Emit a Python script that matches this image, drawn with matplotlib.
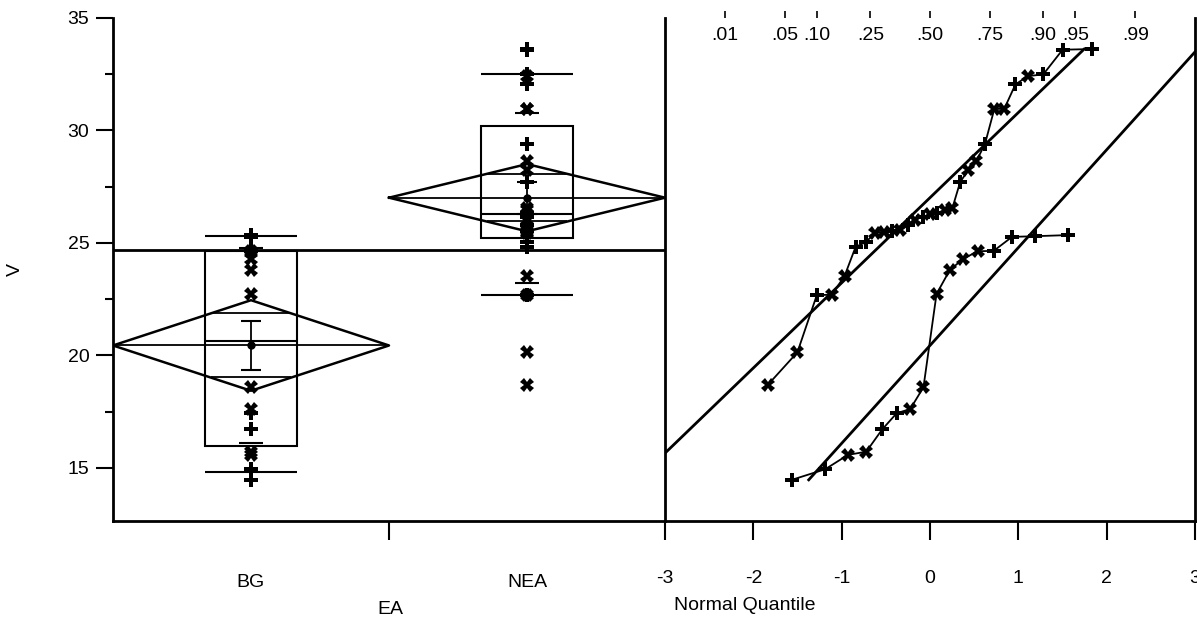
import numpy as np
import matplotlib.pyplot as plt
from matplotlib.patches import Rectangle
from statistics import NormalDist

plt.rcParams['font.family'] = ['Liberation Sans', 'DejaVu Sans']
plt.rcParams['axes.unicode_minus'] = False

# data (sorted), marker shape per point
groups = ['BG', 'NEA']
bg_values = [14.47, 14.94, 15.58, 15.72, 16.71, 17.43, 17.62, 18.59, 22.73, 23.79,
             24.30, 24.63, 24.65, 25.27, 25.30, 25.35]
bg_marks = ['P', 'P', 'X', 'X', 'P', 'P', 'X', 'X', 'X', 'X',
            'X', 'X', 'P', 'P', 'P', 'P']
nea_values = [18.70, 20.14, 22.68, 22.70, 23.53, 24.83, 25.03, 25.45, 25.50, 25.53,
              25.57, 25.81, 26.04, 26.16, 26.27, 26.35, 26.45, 26.55, 27.70, 28.23,
              28.63, 29.41, 30.95, 30.97, 32.05, 32.42, 32.49, 33.59, 33.62]
nea_marks = ['X', 'X', 'P', 'X', 'X', 'P', 'P', 'X', 'X', 'P',
             'X', 'P', 'X', 'P', 'X', 'P', 'X', 'X', 'P', 'X',
             'X', 'P', 'X', 'X', 'P', 'X', 'P', 'P', 'P']
prob_labels = ['.01', '.05', '.10', '.25', '.50', '.75', '.90', '.95', '.99']
probs = [0.01, 0.05, 0.10, 0.25, 0.50, 0.75, 0.90, 0.95, 0.99]

data = [np.array(bg_values), np.array(nea_values)]
marks = [bg_marks, nea_marks]
nd = NormalDist()
fs = 14

W, H = 1197, 627
fig = plt.figure(figsize=(W / 100, H / 100), dpi=100)
axL = fig.add_axes([113 / W, 106 / H, 552 / W, 503 / H])
axR = fig.add_axes([665 / W, 106 / H, 530 / W, 503 / H], sharey=axL)

lw = 1.8
# pooled sd for the means diamonds
allv = np.concatenate(data)
grand = allv.mean()
ss = sum(((v - v.mean()) ** 2).sum() for v in data)
dfe = len(allv) - len(data)
sp = np.sqrt(ss / dfe)
tval = 2.017

axL.axhline(grand, color='k', lw=2)
for i, v in enumerate(data):
    n = len(v)
    m = v.mean()
    sd = v.std(ddof=1)
    q10, q25, q50, q75, q90 = np.percentile(v, [10, 25, 50, 75, 90], method='weibull')
    bw = 0.167
    axL.add_patch(Rectangle((i - bw, q25), 2 * bw, q75 - q25, fill=False, ec='k', lw=1.5))
    axL.hlines([q50, q10, q90], i - bw, i + bw, color='k', lw=1.5)
    axL.hlines([m - sd, m + sd], i - 0.045, i + 0.045, color='k', lw=1.5)
    ci = tval * sp / np.sqrt(n)
    axL.plot([i - 0.5, i, i + 0.5, i, i - 0.5], [m, m + ci, m, m - ci, m], color='k', lw=lw)
    axL.hlines(m, i - 0.5, i + 0.5, color='k', lw=1.3)
    ov = ci / np.sqrt(2)
    ow = 0.5 * (1 - 1 / np.sqrt(2))
    axL.hlines([m - ov, m + ov], i - ow, i + ow, color='k', lw=1.3)
    axL.errorbar(i, m, yerr=sd / np.sqrt(n), color='k', lw=1.3, capsize=7,
                 capthick=1.5, marker='o', ms=5)
    for val, mk in zip(v, marks[i]):
        axL.plot(i, val, marker=mk, color='k', ms=10, mew=0)

    # normal quantile plot
    s = np.sort(v)
    q = np.array([nd.inv_cdf(k / (n + 1)) for k in range(1, n + 1)])
    axR.plot(q, s, color='k', lw=1.3)
    for qq, val, mk in zip(q, s, marks[i]):
        axR.plot(qq, val, marker=mk, color='k', ms=10, mew=0)
    lo, hi = allv.min(), allv.max()
    qa = max(-3, (lo - m) / sd)
    qb = min(3, (hi - m) / sd)
    axR.plot([qa, qb], [m + sd * qa, m + sd * qb], color='k', lw=2)

axL.set_xlim(-0.5, 1.5)
axL.set_ylim(12.64, 35)
axL.set_yticks([15, 20, 25, 30, 35])
axL.set_yticks(np.arange(17.5, 35, 5), minor=True)
axL.tick_params(axis='y', which='major', length=12, width=1.5, labelsize=fs, pad=5)
axL.tick_params(axis='y', which='minor', length=6, width=1.5)
axL.set_xticks([0, 1], groups)
axL.set_xticks([0.5], minor=True)
axL.tick_params(axis='x', which='major', length=0, pad=38, labelsize=fs)
axL.tick_params(axis='x', which='minor', length=14, width=1.5)
axL.spines['top'].set_visible(False)
axL.spines['right'].set_visible(False)
for sp_ in ['left', 'bottom']:
    axL.spines[sp_].set_linewidth(2)

axR.set_xlim(-3, 3)
axR.set_xticks(range(-3, 4))
axR.tick_params(axis='x', length=14, width=1.5, pad=21, labelsize=fs)
axR.tick_params(axis='y', which='both', left=False, labelleft=False)
axR.spines['top'].set_visible(False)
for sp_ in ['left', 'right', 'bottom']:
    axR.spines[sp_].set_linewidth(2)

qs = [nd.inv_cdf(p) for p in probs]
sec = axR.secondary_xaxis('top')
sec.set_xticks(qs, [''] * len(qs))
sec.tick_params(direction='out', length=5, width=1.2)
sec.spines['top'].set_visible(False)
for qq, lab in zip(qs, prob_labels):
    axR.text(qq, 0.966, lab, transform=axR.get_xaxis_transform(),
             ha='center', va='center', fontsize=fs)

fig.text(15 / W, 1 - 270 / H, 'V', rotation=90, ha='center', va='center', fontsize=fs)
fig.text(390 / W, 1 - 610 / H, 'EA', ha='center', va='center', fontsize=fs)
fig.text(745 / W, 1 - 605 / H, 'Normal Quantile', ha='center', va='center', fontsize=fs)

fig.savefig('out.png', dpi=100)
